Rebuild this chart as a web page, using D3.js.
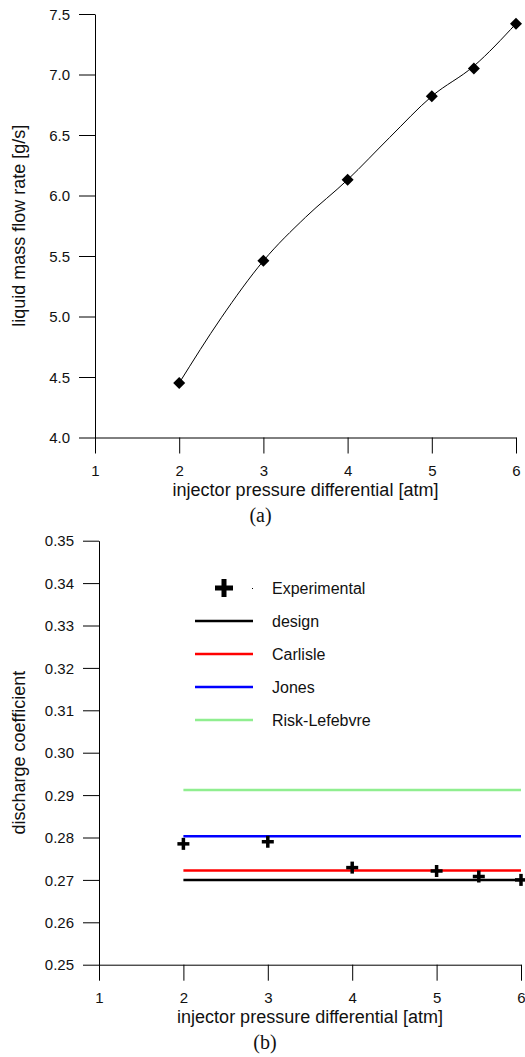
<!DOCTYPE html>
<html>
<head>
<meta charset="utf-8">
<script src="https://cdn.jsdelivr.net/npm/d3@7"></script>
<style>
  body { margin: 0; background: #fff; }
  svg { display: block; }
  .tick text { font-family: "Liberation Sans", Arial, sans-serif; font-size: 15px; fill: #111; }
  .title { font-family: "Liberation Sans", Arial, sans-serif; font-size: 18px; fill: #111; }
  .caption { font-family: "Liberation Serif", "Times New Roman", serif; font-size: 20px; fill: #111; }
  .legend text { font-family: "Liberation Sans", Arial, sans-serif; font-size: 16px; fill: #111; }
</style>
</head>
<body>
<div id="chart"></div>
<script>
// (a) liquid mass flow rate vs pressure differential
const pressureA = [2, 3, 4, 5, 5.5, 6];
const flowRate = [4.45, 5.46, 6.13, 6.82, 7.05, 7.42];
// smooth line
const fitPressure = [2, 2.5, 3, 3.5, 4, 4.5, 5, 5.5, 6];
const fitFlow = [4.45, 4.99, 5.46, 5.82, 6.13, 6.48, 6.82, 7.07, 7.42];
const xTicks = [1, 2, 3, 4, 5, 6];
const flowTicks = [4.0, 4.5, 5.0, 5.5, 6.0, 6.5, 7.0, 7.5];

// (b) discharge coefficient
const pressureB = [2, 3, 4, 5, 5.5, 6];
const cdExperimental = [0.2785, 0.2790, 0.2729, 0.2721, 0.2708, 0.2700];
const modelNames = ['design', 'Carlisle', 'Jones', 'Risk-Lefebvre'];
const modelValues = [0.2700, 0.2722, 0.2803, 0.2912];
const modelColors = ['#000000', '#ff0000', '#0000ff', '#90ee90'];
const modelRange = [2, 6];
const cdTicks = [0.25, 0.26, 0.27, 0.28, 0.29, 0.30, 0.31, 0.32, 0.33, 0.34, 0.35];

const W = 525, H = 1057;
const svg = d3.select('#chart').append('svg')
    .attr('width', W)
    .attr('height', H);

function drawAxes(g, x, y, yFmt, xTitle, yTitle, caption) {
    const xAxis = d3.axisBottom(x).tickValues(xTicks).tickFormat(d3.format('d'))
        .tickSize(16).tickSizeOuter(0).tickPadding(12);
    const yAxis = d3.axisLeft(y).tickValues(yFmt.ticks).tickFormat(d3.format(yFmt.fmt))
        .tickSize(16).tickSizeOuter(0).tickPadding(9);

    const y0 = y.range()[0];
    const x0 = x.range()[0];
    const gx = g.append('g').attr('transform', `translate(0,${y0})`).call(xAxis);
    const gy = g.append('g').attr('transform', `translate(${x0},0)`).call(yAxis);
    [gx, gy].forEach(a => {
        a.selectAll('path, line').attr('stroke', '#000');
        a.selectAll('text').attr('font-size', null).attr('font-family', null);
    });
    gy.selectAll('.tick text').attr('dy', '0.35em');

    const xm = (x.range()[0] + x.range()[1]) / 2;
    g.append('text')
        .attr('class', 'title')
        .attr('x', xm)
        .attr('y', y0 + 58)
        .attr('text-anchor', 'middle')
        .text(xTitle);

    const ym = (y.range()[0] + y.range()[1]) / 2;
    g.append('text')
        .attr('class', 'title')
        .attr('transform', `translate(25,${ym}) rotate(-90)`)
        .attr('text-anchor', 'middle')
        .text(yTitle);

    g.append('text')
        .attr('class', 'caption')
        .attr('x', xm - 45)
        .attr('y', y0 + 84)
        .attr('text-anchor', 'middle')
        .text(caption);
}

// ---- chart (a)
const gA = svg.append('g');
const xA = d3.scaleLinear().domain([1, 6]).range([95, 516]);
const yA = d3.scaleLinear().domain([4, 7.5]).range([437.5, 14]);

drawAxes(gA, xA, yA, { ticks: flowTicks, fmt: '.1f' },
    'injector pressure differential [atm]', 'liquid mass flow rate [g/s]', '(a)');

const fitA = fitPressure.map((p, i) => [p, fitFlow[i]]);
gA.append('path')
    .datum(fitA)
    .attr('fill', 'none')
    .attr('stroke', '#000')
    .attr('stroke-width', 1)
    .attr('d', d3.line().x(d => xA(d[0])).y(d => yA(d[1])).curve(d3.curveMonotoneX));

const ptsA = pressureA.map((p, i) => [p, flowRate[i]]);
const diamond = d3.symbol().type(d3.symbolSquare).size(72);
gA.selectAll('.pt')
    .data(ptsA)
    .join('path')
    .attr('class', 'pt')
    .attr('d', diamond)
    .attr('fill', '#000')
    .attr('transform', d => `translate(${xA(d[0])},${yA(d[1])}) rotate(45)`);

// ---- chart (b)
const gB = svg.append('g');
const xB = d3.scaleLinear().domain([1, 6]).range([99, 521]);
const yB = d3.scaleLinear().domain([0.25, 0.35]).range([964.7, 540.7]);

drawAxes(gB, xB, yB, { ticks: cdTicks, fmt: '.2f' },
    'injector pressure differential [atm]', 'discharge coefficient', '(b)');

gB.selectAll('.model')
    .data(modelValues)
    .join('line')
    .attr('class', 'model')
    .attr('x1', xB(modelRange[0]))
    .attr('x2', xB(modelRange[1]))
    .attr('y1', d => yB(d))
    .attr('y2', d => yB(d))
    .attr('stroke', (d, i) => modelColors[i])
    .attr('stroke-width', 2.5);

function plus(sel, size, thick) {
    const h = size / 2, t = thick / 2;
    sel.append('rect').attr('x', -h).attr('y', -t).attr('width', size).attr('height', thick);
    sel.append('rect').attr('x', -t).attr('y', -h).attr('width', thick).attr('height', size);
}

const ptsB = pressureB.map((p, i) => [p, cdExperimental[i]]);
gB.selectAll('.cross')
    .data(ptsB)
    .join('g')
    .attr('class', 'cross')
    .attr('fill', '#000')
    .attr('transform', d => `translate(${xB(d[0])},${yB(d[1])})`)
    .each(function () { plus(d3.select(this), 12, 3.5); });

// legend
const legend = gB.append('g').attr('class', 'legend');
const legTop = 588, legStep = 33;
const legItems = ['Experimental', ...modelNames];
legItems.forEach((name, i) => {
    const yy = legTop + i * legStep;
    if (i === 0) {
        const c = legend.append('g').attr('fill', '#000').attr('transform', `translate(224,${yy})`);
        plus(c, 18, 5);
        legend.append('rect').attr('x', 252).attr('y', yy).attr('width', 1).attr('height', 1).attr('fill', '#000');
    } else {
        legend.append('line')
            .attr('x1', 195).attr('x2', 253)
            .attr('y1', yy).attr('y2', yy)
            .attr('stroke', modelColors[i - 1])
            .attr('stroke-width', 2.5);
    }
    legend.append('text')
        .attr('x', 272)
        .attr('y', yy)
        .attr('dy', '0.35em')
        .text(name);
});
</script>
</body>
</html>
